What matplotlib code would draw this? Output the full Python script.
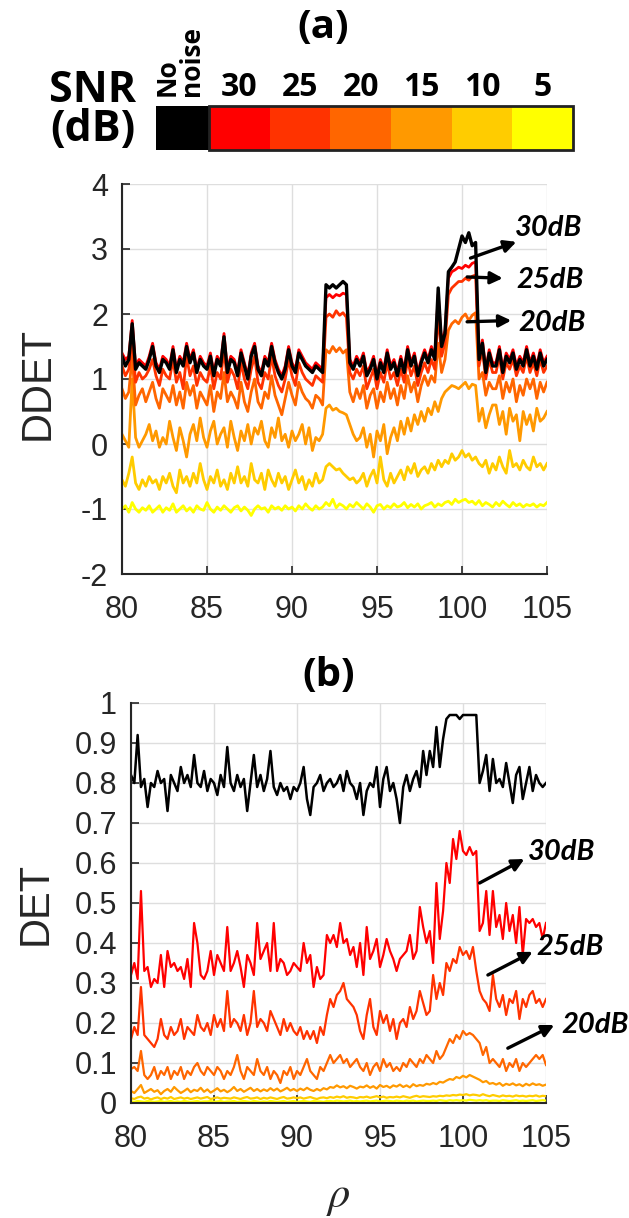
import numpy as np
import matplotlib
matplotlib.use('Agg')
import matplotlib.pyplot as plt
from matplotlib.patches import Rectangle

plt.rcParams['font.family'] = ['Liberation Sans', 'DejaVu Sans']
plt.rcParams['axes.unicode_minus'] = False

# rho grid (step 0.2)
rho = np.round(np.arange(80, 105.001, 0.2), 1)

snr_names = ['30', '25', '20', '15', '10', '5']
snr_colors = ['#FF0000', '#FF3300', '#FF6600', '#FF9900', '#FFCC00', '#FFFF00']

# ---- (a) DDET ----
ddet_clean = [1.35, 1.20, 1.30, 1.85, 1.15, 1.25, 1.20, 1.15, 1.30, 1.50,
              1.20, 1.10, 1.30, 1.25, 1.15, 1.45, 1.10, 1.30, 1.20, 1.50,
              1.25, 1.40, 1.10, 1.30, 1.20, 1.15, 1.35, 1.05, 1.30, 1.20,
              1.65, 1.10, 1.30, 1.25, 1.05, 1.40, 1.20, 1.00, 1.35, 1.50,
              1.15, 1.05, 1.30, 1.20, 1.50, 1.25, 1.10, 1.00, 1.15, 1.45,
              1.20, 1.10, 1.40, 1.30, 1.20, 1.15, 1.10, 1.20, 1.15, 1.10,
              2.45, 2.40, 2.45, 2.40, 2.45, 2.50, 2.45, 1.25, 1.15, 1.30,
              1.20, 1.35, 1.05, 1.15, 1.30, 1.00, 1.25, 1.10, 1.40, 1.15,
              1.25, 1.05, 1.30, 1.10, 1.45, 1.20, 1.35, 1.05, 1.25, 1.40,
              1.25, 1.45, 1.30, 2.40, 1.50, 1.70, 2.65, 2.72, 2.80, 3.00,
              3.20, 3.10, 3.25, 3.05, 3.10, 1.30, 1.55, 1.10, 1.40, 1.20,
              1.20, 1.45, 1.10, 1.35, 1.25, 1.40, 1.15, 1.30, 1.20, 1.45,
              1.20, 1.35, 1.15, 1.40, 1.20, 1.30]
ddet_30 = [1.40, 1.30, 1.35, 1.90, 1.20, 1.30, 1.25, 1.20, 1.35, 1.55,
           1.25, 1.15, 1.35, 1.30, 1.20, 1.50, 1.15, 1.35, 1.25, 1.55,
           1.30, 1.45, 1.15, 1.35, 1.25, 1.20, 1.40, 1.10, 1.35, 1.25,
           1.70, 1.15, 1.35, 1.30, 1.10, 1.45, 1.25, 1.05, 1.40, 1.55,
           1.20, 1.10, 1.35, 1.25, 1.55, 1.30, 1.15, 1.05, 1.20, 1.50,
           1.25, 1.15, 1.45, 1.35, 1.25, 1.20, 1.15, 1.25, 1.20, 1.15,
           2.25, 2.30, 2.25, 2.30, 2.28, 2.32, 2.30, 1.30, 1.20, 1.35,
           1.25, 1.40, 1.10, 1.20, 1.35, 1.05, 1.30, 1.15, 1.45, 1.20,
           1.30, 1.10, 1.35, 1.15, 1.50, 1.25, 1.40, 1.10, 1.30, 1.45,
           1.30, 1.50, 1.35, 2.30, 1.55, 1.75, 2.55, 2.65, 2.68, 2.72,
           2.70, 2.75, 2.72, 2.78, 2.80, 1.35, 1.60, 1.15, 1.45, 1.25,
           1.25, 1.50, 1.15, 1.40, 1.30, 1.45, 1.20, 1.35, 1.25, 1.50,
           1.25, 1.40, 1.20, 1.45, 1.25, 1.35]
ddet_25 = [1.20, 1.05, 1.15, 1.60, 0.95, 1.10, 1.00, 1.05, 1.15, 1.30,
           1.05, 0.90, 1.15, 1.05, 1.00, 1.30, 0.95, 1.10, 0.85, 1.35,
           1.05, 1.20, 0.90, 1.10, 1.00, 0.95, 1.20, 0.85, 1.10, 1.00,
           1.45, 0.95, 1.15, 1.05, 0.85, 1.25, 1.00, 0.85, 1.15, 1.35,
           0.95, 0.85, 1.10, 1.00, 1.35, 1.05, 0.90, 0.80, 1.00, 1.30,
           1.05, 0.90, 1.25, 1.10, 1.00, 0.95, 0.90, 1.05, 1.00, 0.95,
           1.95, 2.00, 1.95, 2.05, 1.98, 2.02, 1.95, 1.10, 1.00, 1.15,
           1.05, 1.20, 0.85, 1.00, 1.15, 0.85, 1.10, 0.95, 1.25, 1.00,
           1.10, 0.90, 1.15, 0.95, 1.30, 1.05, 1.20, 0.90, 1.10, 1.25,
           1.10, 1.30, 1.15, 2.00, 1.35, 1.55, 2.30, 2.40, 2.45, 2.50,
           2.50, 2.55, 2.52, 2.58, 2.60, 1.20, 1.45, 1.00, 1.30, 1.10,
           1.10, 1.35, 1.00, 1.25, 1.15, 1.30, 1.05, 1.20, 1.10, 1.35,
           1.10, 1.25, 1.05, 1.30, 1.10, 1.20]
ddet_20 = [0.85, 0.70, 0.80, 1.35, 0.60, 0.75, 0.85, 0.65, 0.80, 0.95,
           0.70, 0.55, 0.85, 0.75, 0.65, 0.90, 0.60, 0.80, 0.55, 0.95,
           0.75, 0.90, 0.55, 0.80, 0.70, 0.60, 0.90, 0.50, 0.80, 0.70,
           1.10, 0.65, 0.80, 0.70, 0.55, 0.95, 0.65, 0.50, 0.80, 1.00,
           0.65, 0.55, 0.80, 0.70, 1.05, 0.75, 0.60, 0.45, 0.70, 0.95,
           0.75, 0.60, 0.95, 0.80, 0.70, 0.65, 0.55, 0.75, 0.70, 0.60,
           1.45, 1.40, 1.50, 1.42, 1.48, 1.40, 1.45, 0.80, 0.65, 0.85,
           0.70, 0.90, 0.55, 0.75, 0.85, 0.55, 0.80, 0.65, 0.95, 0.70,
           0.85, 0.60, 0.90, 0.70, 1.05, 0.80, 0.95, 0.65, 0.90, 1.05,
           0.90, 1.05, 0.95, 1.55, 1.10, 1.30, 1.75, 1.85, 1.90, 1.85,
           1.95, 2.00, 1.90, 1.98, 2.02, 1.00, 1.10, 0.75, 0.95, 0.85,
           0.85, 1.05, 0.70, 0.95, 0.80, 1.00, 0.65, 0.90, 0.75, 1.00,
           0.85, 1.00, 0.70, 0.95, 0.80, 0.95]
ddet_15 = [0.15, 0.05, -0.05, 1.00, 0.10, -0.05, 0.05, 0.15, 0.30, 0.05,
           0.20, -0.05, 0.10, 0.00, 0.35, 0.10, -0.10, 0.25, 0.05, -0.20,
           0.15, 0.30, 0.05, 0.40, 0.10, -0.05, 0.20, 0.35, 0.00, 0.15,
           0.25, -0.05, 0.35, 0.10, -0.10, 0.20, 0.05, 0.30, 0.00, 0.25,
           0.15, 0.35, 0.05, -0.05, 0.25, 0.10, 0.40, 0.05, 0.15, -0.05,
           0.20, 0.05, 0.15, 0.30, 0.00, 0.25, -0.10, 0.10, 0.05, 0.15,
           0.55, 0.60, 0.52, 0.55, 0.50, 0.48, 0.45, 0.30, 0.15, 0.05,
           0.10, 0.25, -0.05, 0.15, -0.20, 0.20, 0.05, 0.30, -0.15, 0.10,
           0.25, 0.05, 0.35, 0.15, 0.40, 0.20, 0.45, 0.30, 0.50, 0.35,
           0.55, 0.45, 0.65, 0.50, 0.70, 0.80, 0.85, 0.90, 0.88, 0.85,
           0.90, 0.95, 0.85, 0.92, 0.90, 0.35, 0.55, 0.25, 0.45, 0.60,
           0.60, 0.30, 0.50, 0.15, 0.55, 0.35, 0.45, 0.05, 0.50, 0.30,
           0.45, 0.20, 0.55, 0.35, 0.40, 0.50]
ddet_10 = [-0.55, -0.65, -0.45, -0.20, -0.60, -0.70, -0.55, -0.65, -0.50, -0.60,
           -0.55, -0.70, -0.50, -0.60, -0.45, -0.65, -0.75, -0.40, -0.60, -0.50,
           -0.65, -0.45, -0.60, -0.30, -0.55, -0.70, -0.50, -0.60, -0.40, -0.65,
           -0.55, -0.70, -0.45, -0.60, -0.35, -0.60, -0.50, -0.65, -0.30, -0.55,
           -0.60, -0.45, -0.70, -0.40, -0.55, -0.65, -0.45, -0.60, -0.50, -0.70,
           -0.55, -0.40, -0.60, -0.50, -0.70, -0.55, -0.65, -0.45, -0.60, -0.55,
           -0.35, -0.30, -0.35, -0.40, -0.38, -0.45, -0.50, -0.55, -0.52, -0.60,
           -0.55, -0.45, -0.65, -0.50, -0.40, -0.60, -0.20, -0.55, -0.65, -0.45,
           -0.60, -0.50, -0.40, -0.55, -0.35, -0.45, -0.30, -0.50, -0.40, -0.35,
           -0.45, -0.30, -0.40, -0.25, -0.35, -0.25, -0.30, -0.15, -0.25, -0.20,
           -0.10, -0.20, -0.15, -0.25, -0.20, -0.30, -0.35, -0.25, -0.45, -0.30,
           -0.40, -0.20, -0.35, -0.45, -0.10, -0.35, -0.30, -0.40, -0.25, -0.35,
           -0.40, -0.20, -0.35, -0.30, -0.40, -0.30]
ddet_5 = [-1.00, -0.95, -1.05, -0.90, -1.00, -1.05, -0.98, -1.02, -0.95, -1.05,
          -1.00, -0.95, -1.05, -0.98, -1.02, -0.92, -1.05, -1.00, -0.95, -1.03,
          -0.98, -1.05, -0.95, -1.00, -1.02, -0.90, -1.00, -1.05, -0.97, -1.02,
          -0.95, -1.00, -1.05, -0.98, -0.95, -1.03, -0.97, -1.02, -1.10, -1.00,
          -0.95, -1.00, -0.98, -1.05, -0.95, -1.00, -0.97, -1.02, -0.95, -1.00,
          -0.97, -1.03, -0.95, -1.00, -0.92, -0.98, -1.02, -0.95, -1.00, -0.97,
          -0.90, -0.95, -0.85, -0.98, -0.92, -0.95, -1.00, -0.93, -0.97, -0.90,
          -0.95, -1.00, -0.92, -0.97, -1.05, -0.95, -0.93, -1.00, -0.95, -0.98,
          -0.92, -0.97, -0.95, -0.90, -0.98, -0.93, -0.97, -0.92, -1.00, -0.95,
          -0.93, -0.90, -0.97, -0.92, -0.95, -0.90, -0.88, -0.93, -0.85, -0.90,
          -0.87, -0.85, -0.90, -0.88, -0.93, -0.87, -0.95, -0.90, -0.93, -0.97,
          -0.90, -0.95, -0.88, -0.93, -0.97, -0.90, -0.95, -0.92, -0.97, -0.93,
          -0.95, -0.92, -0.97, -0.93, -0.95, -0.90]

# ---- (b) DET ----
det_clean = [0.82, 0.80, 0.92, 0.79, 0.81, 0.74, 0.80, 0.79, 0.83, 0.80,
             0.81, 0.73, 0.82, 0.80, 0.78, 0.84, 0.80, 0.82, 0.79, 0.87,
             0.80, 0.79, 0.83, 0.78, 0.81, 0.80, 0.77, 0.82, 0.79, 0.89,
             0.80, 0.78, 0.82, 0.79, 0.81, 0.73, 0.80, 0.87, 0.79, 0.82,
             0.78, 0.81, 0.88, 0.79, 0.77, 0.80, 0.78, 0.79, 0.76, 0.79,
             0.78, 0.80, 0.84, 0.76, 0.72, 0.79, 0.80, 0.82, 0.78, 0.80,
             0.81, 0.79, 0.80, 0.82, 0.78, 0.83, 0.80, 0.79, 0.76, 0.80,
             0.72, 0.78, 0.80, 0.79, 0.84, 0.74, 0.81, 0.84, 0.78, 0.80,
             0.76, 0.70, 0.79, 0.82, 0.78, 0.81, 0.83, 0.79, 0.88, 0.82,
             0.88, 0.84, 0.94, 0.84, 0.91, 0.96, 0.97, 0.97, 0.97, 0.96,
             0.97, 0.97, 0.97, 0.97, 0.97, 0.80, 0.83, 0.87, 0.78, 0.86,
             0.80, 0.81, 0.79, 0.85, 0.80, 0.75, 0.82, 0.84, 0.76, 0.80,
             0.84, 0.78, 0.82, 0.80, 0.79, 0.80]
det_30 = [0.32, 0.35, 0.31, 0.53, 0.33, 0.34, 0.29, 0.31, 0.30, 0.37,
          0.29, 0.38, 0.34, 0.35, 0.33, 0.34, 0.31, 0.36, 0.29, 0.45,
          0.40, 0.32, 0.31, 0.33, 0.38, 0.32, 0.37, 0.35, 0.33, 0.44,
          0.33, 0.35, 0.38, 0.34, 0.29, 0.37, 0.35, 0.32, 0.45, 0.36,
          0.38, 0.40, 0.33, 0.45, 0.33, 0.36, 0.35, 0.32, 0.33, 0.35,
          0.34, 0.33, 0.40, 0.35, 0.37, 0.29, 0.34, 0.31, 0.32, 0.42,
          0.40, 0.42, 0.39, 0.45, 0.40, 0.41, 0.37, 0.39, 0.34, 0.40,
          0.32, 0.44, 0.36, 0.38, 0.41, 0.34, 0.37, 0.41, 0.38, 0.36,
          0.33, 0.36, 0.37, 0.38, 0.42, 0.36, 0.38, 0.49, 0.44, 0.40,
          0.43, 0.35, 0.55, 0.41, 0.48, 0.60, 0.55, 0.66, 0.61, 0.68,
          0.63, 0.62, 0.64, 0.62, 0.63, 0.43, 0.45, 0.53, 0.42, 0.53,
          0.44, 0.47, 0.41, 0.50, 0.43, 0.47, 0.40, 0.49, 0.37, 0.46,
          0.45, 0.46, 0.44, 0.45, 0.41, 0.45]
det_25 = [0.16, 0.19, 0.17, 0.29, 0.17, 0.16, 0.15, 0.14, 0.16, 0.21,
          0.17, 0.16, 0.19, 0.17, 0.18, 0.21, 0.16, 0.19, 0.18, 0.17,
          0.22, 0.19, 0.18, 0.20, 0.17, 0.22, 0.19, 0.21, 0.18, 0.28,
          0.19, 0.21, 0.20, 0.18, 0.22, 0.17, 0.20, 0.28, 0.19, 0.21,
          0.20, 0.18, 0.23, 0.21, 0.19, 0.17, 0.21, 0.18, 0.20, 0.18,
          0.17, 0.19, 0.16, 0.18, 0.16, 0.18, 0.15, 0.19, 0.17, 0.22,
          0.26, 0.24, 0.27, 0.28, 0.30, 0.26, 0.25, 0.24, 0.22, 0.18,
          0.16, 0.22, 0.26, 0.19, 0.17, 0.23, 0.20, 0.22, 0.18, 0.21,
          0.16, 0.20, 0.21, 0.19, 0.24, 0.21, 0.23, 0.28, 0.25, 0.22,
          0.23, 0.32, 0.26, 0.30, 0.27, 0.35, 0.33, 0.36, 0.35, 0.39,
          0.37, 0.38, 0.36, 0.39, 0.33, 0.28, 0.26, 0.25, 0.23, 0.32,
          0.26, 0.24, 0.27, 0.22, 0.26, 0.25, 0.28, 0.21, 0.26, 0.24,
          0.27, 0.28, 0.25, 0.26, 0.24, 0.26]
det_20 = [0.085, 0.09, 0.08, 0.13, 0.07, 0.06, 0.07, 0.09, 0.06, 0.08,
          0.07, 0.09, 0.06, 0.08, 0.07, 0.09, 0.06, 0.08, 0.07, 0.09,
          0.10, 0.08, 0.07, 0.09, 0.08, 0.07, 0.09, 0.08, 0.06, 0.08,
          0.07, 0.09, 0.12, 0.08, 0.06, 0.09, 0.08, 0.07, 0.11, 0.08,
          0.07, 0.09, 0.06, 0.08, 0.07, 0.05, 0.08, 0.07, 0.09, 0.06,
          0.08, 0.07, 0.09, 0.11, 0.08, 0.07, 0.06, 0.09, 0.08, 0.10,
          0.12, 0.10, 0.11, 0.12, 0.10, 0.11, 0.09, 0.10, 0.11, 0.09,
          0.08, 0.10, 0.07, 0.09, 0.10, 0.08, 0.11, 0.09, 0.10, 0.08,
          0.09, 0.08, 0.10, 0.09, 0.11, 0.10, 0.09, 0.11, 0.10, 0.12,
          0.11, 0.10, 0.13, 0.11, 0.12, 0.14, 0.16, 0.15, 0.17, 0.16,
          0.18, 0.17, 0.175, 0.17, 0.16, 0.15, 0.12, 0.14, 0.10, 0.11,
          0.10, 0.09, 0.11, 0.08, 0.10, 0.09, 0.11, 0.08, 0.10, 0.09,
          0.10, 0.11, 0.12, 0.11, 0.12, 0.095]
det_15 = [0.030, 0.025, 0.035, 0.045, 0.025, 0.030, 0.035, 0.028, 0.032, 0.022,
          0.030, 0.035, 0.028, 0.040, 0.032, 0.025, 0.030, 0.036, 0.027, 0.033,
          0.030, 0.038, 0.028, 0.034, 0.026, 0.031, 0.037, 0.029, 0.033, 0.027,
          0.032, 0.040, 0.030, 0.035, 0.028, 0.033, 0.038, 0.030, 0.035, 0.029,
          0.034, 0.030, 0.037, 0.031, 0.036, 0.029, 0.033, 0.038, 0.031, 0.035,
          0.030, 0.036, 0.032, 0.038, 0.033, 0.030, 0.035, 0.031, 0.037, 0.034,
          0.040, 0.038, 0.044, 0.039, 0.042, 0.037, 0.043, 0.040, 0.036, 0.041,
          0.039, 0.044, 0.038, 0.042, 0.036, 0.045, 0.040, 0.043, 0.038, 0.044,
          0.041, 0.046, 0.040, 0.044, 0.039, 0.047, 0.042, 0.045, 0.043, 0.048,
          0.046, 0.050, 0.047, 0.053, 0.051, 0.056, 0.060, 0.058, 0.065, 0.062,
          0.068, 0.064, 0.070, 0.066, 0.062, 0.058, 0.052, 0.055, 0.048, 0.050,
          0.046, 0.050, 0.043, 0.048, 0.045, 0.049, 0.044, 0.047, 0.042, 0.048,
          0.044, 0.049, 0.045, 0.047, 0.043, 0.046]
det_10 = [0.012, 0.010, 0.014, 0.016, 0.011, 0.013, 0.009, 0.012, 0.014, 0.010,
          0.013, 0.011, 0.015, 0.010, 0.012, 0.014, 0.011, 0.013, 0.010, 0.012,
          0.014, 0.011, 0.013, 0.015, 0.010, 0.012, 0.014, 0.011, 0.013, 0.012,
          0.011, 0.014, 0.012, 0.010, 0.013, 0.015, 0.011, 0.012, 0.014, 0.010,
          0.013, 0.011, 0.014, 0.012, 0.010, 0.013, 0.015, 0.011, 0.012, 0.014,
          0.012, 0.014, 0.011, 0.013, 0.015, 0.012, 0.010, 0.013, 0.014, 0.012,
          0.015, 0.013, 0.016, 0.014, 0.017, 0.013, 0.015, 0.014, 0.012, 0.015,
          0.014, 0.016, 0.013, 0.015, 0.017, 0.014, 0.016, 0.013, 0.015, 0.014,
          0.016, 0.014, 0.017, 0.015, 0.013, 0.016, 0.018, 0.015, 0.017, 0.016,
          0.015, 0.017, 0.016, 0.018, 0.017, 0.019, 0.018, 0.020, 0.019, 0.021,
          0.020, 0.022, 0.019, 0.021, 0.020, 0.018, 0.022, 0.019, 0.017, 0.020,
          0.018, 0.016, 0.019, 0.017, 0.018, 0.016, 0.019, 0.017, 0.018, 0.016,
          0.018, 0.017, 0.019, 0.016, 0.018, 0.017]
det_5 = [0.004, 0.003, 0.005, 0.004, 0.003, 0.005, 0.004, 0.003, 0.004, 0.005,
         0.003, 0.004, 0.005, 0.003, 0.004, 0.003, 0.005, 0.004, 0.003, 0.004,
         0.005, 0.003, 0.004, 0.004, 0.005, 0.003, 0.004, 0.005, 0.003, 0.004,
         0.004, 0.005, 0.003, 0.004, 0.005, 0.004, 0.003, 0.005, 0.004, 0.003,
         0.004, 0.003, 0.005, 0.004, 0.003, 0.004, 0.005, 0.003, 0.004, 0.005,
         0.003, 0.004, 0.005, 0.004, 0.003, 0.005, 0.004, 0.004, 0.003, 0.005,
         0.005, 0.004, 0.006, 0.005, 0.004, 0.005, 0.006, 0.004, 0.005, 0.004,
         0.005, 0.006, 0.004, 0.005, 0.006, 0.004, 0.005, 0.006, 0.005, 0.004,
         0.006, 0.005, 0.004, 0.006, 0.005, 0.006, 0.004, 0.005, 0.006, 0.005,
         0.005, 0.006, 0.005, 0.007, 0.006, 0.005, 0.007, 0.006, 0.007, 0.006,
         0.007, 0.006, 0.008, 0.007, 0.006, 0.007, 0.006, 0.007, 0.005, 0.006,
         0.006, 0.005, 0.007, 0.006, 0.005, 0.006, 0.007, 0.005, 0.006, 0.005,
         0.006, 0.007, 0.005, 0.006, 0.007, 0.006]

ddet_noisy = [ddet_30, ddet_25, ddet_20, ddet_15, ddet_10, ddet_5]
det_noisy = [det_30, det_25, det_20, det_15, det_10, det_5]

x_ticks = [80, 85, 90, 95, 100, 105]
ddet_ticks = [-2, -1, 0, 1, 2, 3, 4]
det_ticks = [0, 0.1, 0.2, 0.3, 0.4, 0.5, 0.6, 0.7, 0.8, 0.9, 1]
det_ticklabels = ['0', '0.1', '0.2', '0.3', '0.4', '0.5', '0.6', '0.7', '0.8', '0.9', '1']

W, H = 629, 1218
fig = plt.figure(figsize=(W / 100, H / 100), dpi=100)


def px_axes(l, t, r, b):
    return fig.add_axes([l / W, 1 - b / H, (r - l) / W, (b - t) / H])


def style(ax):
    ax.spines['top'].set_visible(False)
    ax.spines['right'].set_visible(False)
    for s in ['left', 'bottom']:
        ax.spines[s].set_color('#262626')
        ax.spines[s].set_linewidth(1.5)
    ax.grid(True, color='#dedede', lw=1)
    ax.set_axisbelow(True)
    ax.tick_params(direction='in', length=6, width=1.2, color='#262626',
                   labelcolor='#262626', labelsize=22)
    ax.tick_params(axis='x', pad=15)
    ax.tick_params(axis='y', pad=10)
    ax.set_xlim(80, 105)
    ax.set_xticks(x_ticks)


def tag(ax, text, p0, p1, pt):
    ax.annotate('', xy=p1, xytext=p0, annotation_clip=False,
                arrowprops=dict(arrowstyle='-|>', color='black', lw=2.4,
                                mutation_scale=18, shrinkA=0, shrinkB=0))
    ax.text(pt[0], pt[1], text, fontfamily='Lato', fontweight='bold',
            fontstyle='italic', fontsize=21, ha='left', va='center', clip_on=False)


bold = dict(fontfamily='Open Sans', fontweight='bold', color='black')

# ---- panel (a) ----
ax1 = px_axes(122, 184, 547, 574)
style(ax1)
for vals, c in zip(ddet_noisy[::-1], snr_colors[::-1]):
    ax1.plot(rho, vals, color=c, lw=2.0)
ax1.plot(rho, ddet_clean, color='black', lw=2.4)
ax1.set_ylim(-2, 4)
ax1.set_yticks(ddet_ticks)
tag(ax1, '30dB', (100.5, 2.86), (103.2, 3.11), (103.1, 3.32))
tag(ax1, '25dB', (100.3, 2.57), (102.4, 2.55), (103.2, 2.52))
tag(ax1, '20dB', (100.3, 1.88), (102.9, 1.90), (103.3, 1.86))

# ---- panel (b) ----
ax2 = px_axes(131, 703, 546, 1103)
style(ax2)
for vals, c in zip(det_noisy[::-1], snr_colors[::-1]):
    ax2.plot(rho, vals, color=c, lw=1.6)
ax2.plot(rho, det_clean, color='black', lw=1.8)
ax2.set_ylim(0, 1)
ax2.set_yticks(det_ticks)
ax2.set_yticklabels(det_ticklabels)
tag(ax2, '30dB', (101.0, 0.55), (103.7, 0.61), (103.9, 0.627))
tag(ax2, '25dB', (101.5, 0.32), (104.2, 0.378), (104.45, 0.39))
tag(ax2, '20dB', (102.7, 0.137), (105.5, 0.195), (105.9, 0.195))

# ---- SNR colour key ----
axl = px_axes(156, 106, 573, 150)
black_w = 53 / 60.7
lefts = black_w + np.arange(len(snr_names))
axl.bar(0, 1, width=black_w, align='edge', color='black')
axl.bar(lefts, np.ones(len(snr_names)), width=1, align='edge', color=snr_colors)
axl.add_patch(Rectangle((black_w, 0), len(snr_names), 1, fill=False, lw=2,
                        ec='#222222', clip_on=False))
axl.set_xlim(0, black_w + len(snr_names))
axl.set_ylim(0, 1)
axl.axis('off')
for x0, name in zip(lefts, snr_names):
    axl.text(x0 + 0.5, 1.42, name, ha='center', va='center', fontsize=23, **bold)
axl.text(black_w / 2 - 0.05, 1.22, 'No\nnoise', rotation=90, ha='center', va='bottom',
         ma='left', fontsize=19, linespacing=0.85, **bold)

# ---- titles and axis labels ----
fig.text(93 / W, 1 - 90 / H, 'SNR', ha='center', va='center', fontsize=31, **bold)
fig.text(93 / W, 1 - 130 / H, '(dB)', ha='center', va='center', fontsize=31, **bold)
fig.text(323 / W, 1 - 27 / H, '(a)', ha='center', va='center', fontsize=29, **bold)
fig.text(329 / W, 1 - 675 / H, '(b)', ha='center', va='center', fontsize=29, **bold)
fig.text(38 / W, 1 - 383 / H, 'DDET', rotation=90, ha='center', va='center',
         fontsize=30, color='#262626')
fig.text(36 / W, 1 - 903 / H, 'DET', rotation=90, ha='center', va='center',
         fontsize=30, color='#262626')
fig.text(338 / W, 1 - 1198 / H, r'$\rho$', ha='center', va='center', fontsize=32,
         math_fontfamily='stix', color='#262626')

fig.savefig('out.png', dpi=100)
